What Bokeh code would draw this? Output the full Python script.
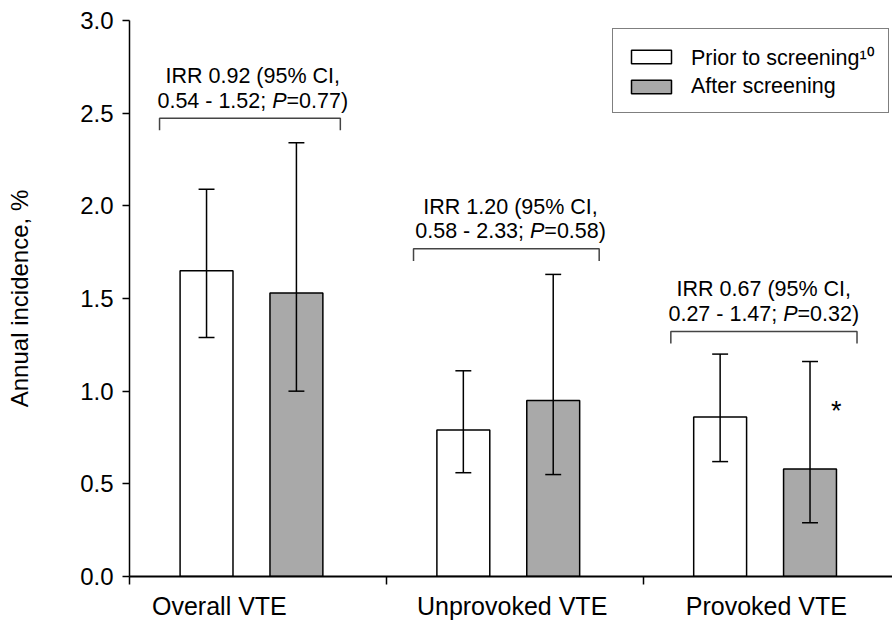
from bokeh.plotting import figure
from bokeh.models import Range1d, FixedTicker, LinearAxis, NumeralTickFormatter
from bokeh.core.properties import value
from bokeh.embed import file_html
from bokeh.resources import INLINE

# ---------------- data ----------------
categories = ["Overall VTE", "Unprovoked VTE", "Provoked VTE"]
prior = [1.65, 0.79, 0.86]
prior_low = [1.29, 0.56, 0.62]
prior_high = [2.09, 1.11, 1.20]
after = [1.53, 0.95, 0.58]
after_low = [1.00, 0.55, 0.29]
after_high = [2.34, 1.63, 1.16]
irr_line1 = ["IRR 0.92 (95% CI,", "IRR 1.20 (95% CI,", "IRR 0.67 (95% CI,"]
irr_ci = ["0.54 - 1.52; ", "0.58 - 2.33; ", "0.27 - 1.47; "]
irr_p = ["=0.77)", "=0.58)", "=0.32)"]
significant = ["", "", "*"]
y_ticks = [0.0, 0.5, 1.0, 1.5, 2.0, 2.5, 3.0]
series_names = ["Prior to screening\u00b9\u2070", "After screening"]

# ---------------- layout constants ----------------
FONT = "Liberation Sans"
n = len(categories)
idx = list(range(n))
OFF_PRIOR, OFF_AFTER, BAR_W = 0.30, 0.65, 0.206
CAP = 0.031
x_prior = [i + OFF_PRIOR for i in idx]
x_after = [i + OFF_AFTER for i in idx]
label_x = [0.35, 1.49, 2.48]
text_x = [0.480, 1.484, 2.470]
br_left = [0.117, 1.106, 2.108]
br_right = [0.821, 1.829, 2.833]
br_y = [2.473, 1.768, 1.322]
BR_DROP = 0.065
ANN_PX = 21.5

p = figure(width=892, height=624, output_backend="svg", toolbar_location=None,
           x_range=Range1d(0, 763 / 256.8), y_range=Range1d(0, 3.0),
           min_border_left=129, min_border_right=0, min_border_top=20,
           min_border_bottom=48, x_axis_location=None, y_axis_location=None)
p.outline_line_color = None
p.xgrid.visible = False
p.ygrid.visible = False
p.background_fill_color = "white"
p.border_fill_color = "white"

# y axis
yax = LinearAxis(ticker=FixedTicker(ticks=y_ticks),
                 formatter=NumeralTickFormatter(format="0.0"))
yax.axis_label = "Annual incidence, %"
yax.axis_label_text_font = FONT
yax.axis_label_text_font_size = "24px"
yax.axis_label_text_font_style = "normal"
yax.axis_label_text_color = "black"
yax.axis_label_standoff = 44
yax.major_label_text_font = FONT
yax.major_label_text_font_size = "24px"
yax.major_label_text_color = "black"
yax.major_label_standoff = 9
yax.major_tick_out = 7
yax.major_tick_in = 0
yax.minor_tick_out = 0
yax.minor_tick_in = 0
yax.axis_line_width = 1.5
yax.major_tick_line_width = 1.5
yax.axis_line_color = "black"
p.add_layout(yax, "left")

# x axis: tick marks between groups
xax = LinearAxis(ticker=FixedTicker(ticks=[0, 1, 2, 3]))
xax.major_label_overrides = {0: "", 1: "", 2: "", 3: ""}
xax.major_label_text_font_size = "0px"
xax.major_label_standoff = 0
xax.major_tick_out = 8
xax.major_tick_in = 0
xax.minor_tick_out = 0
xax.minor_tick_in = 0
xax.axis_line_width = 2
xax.major_tick_line_width = 1.5
xax.axis_line_color = "black"
p.add_layout(xax, "below")

# x axis: category labels
cax = LinearAxis(ticker=FixedTicker(ticks=label_x))
cax.major_label_overrides = {label_x[i]: categories[i] for i in idx}
cax.major_label_text_font = FONT
cax.major_label_text_font_size = "25px"
cax.major_label_text_color = "black"
cax.major_label_standoff = 7
cax.major_tick_out = 0
cax.major_tick_in = 0
cax.minor_tick_out = 0
cax.minor_tick_in = 0
cax.axis_line_color = None
p.add_layout(cax, "below")

# bars
p.vbar(x=x_prior, top=prior, bottom=0, width=BAR_W, fill_color="white",
       line_color="black", line_width=1.5, legend_label=series_names[0])
p.vbar(x=x_after, top=after, bottom=0, width=BAR_W, fill_color="#a9a9a9",
       line_color="black", line_width=1.5, legend_label=series_names[1])

# error bars
for xs, lo, hi in ((x_prior, prior_low, prior_high), (x_after, after_low, after_high)):
    p.segment(x0=xs, y0=lo, x1=xs, y1=hi, line_color="black", line_width=1.5)
    p.segment(x0=[x - CAP for x in xs], y0=hi, x1=[x + CAP for x in xs], y1=hi,
              line_color="black", line_width=1.5)
    p.segment(x0=[x - CAP for x in xs], y0=lo, x1=[x + CAP for x in xs], y1=lo,
              line_color="black", line_width=1.5)

# brackets
p.multi_line(xs=[[l, l, r, r] for l, r in zip(br_left, br_right)],
             ys=[[y - BR_DROP, y, y, y - BR_DROP] for y in br_y],
             line_color="#444444", line_width=1.5)

# IRR annotation text
common = dict(text_font=value(FONT), text_font_size=value(f"{ANN_PX}px"),
              text_color="black", text_baseline="alphabetic")
p.text(x=text_x, y=br_y, text=irr_line1, text_align="center", y_offset=-42, **common)
em = ANN_PX
p.text(x=text_x, y=br_y, text=irr_ci, text_align="right",
       x_offset=0.9035 * em, y_offset=-17.5, **common)
p.text(x=text_x, y=br_y, text=["P"] * n, text_align="left",
       x_offset=0.9035 * em, y_offset=-17.5, text_font_style="italic", **common)
p.text(x=text_x, y=br_y, text=irr_p, text_align="left",
       x_offset=(0.9035 + 0.667) * em, y_offset=-17.5, **common)

# significance marker
p.text(x=[x + 0.102 for x in x_after], y=after_high, text=significant,
       text_align="center", text_baseline="alphabetic", y_offset=49,
       text_font=value(FONT), text_font_size=value("27px"), text_color="black")

# legend
lg = p.legend[0]
lg.location = (483, 463)
lg.margin = 0
lg.padding = 13
lg.spacing = 3
lg.glyph_width = 50
lg.glyph_height = 17
lg.label_height = 17
lg.label_standoff = 15
lg.label_text_font = FONT
lg.label_text_font_size = "21.5px"
lg.label_text_color = "black"
lg.border_line_color = "black"
lg.border_line_width = 1.5
lg.background_fill_color = "white"
lg.background_fill_alpha = 1.0

open("out.html", "w").write(file_html(p, INLINE))
